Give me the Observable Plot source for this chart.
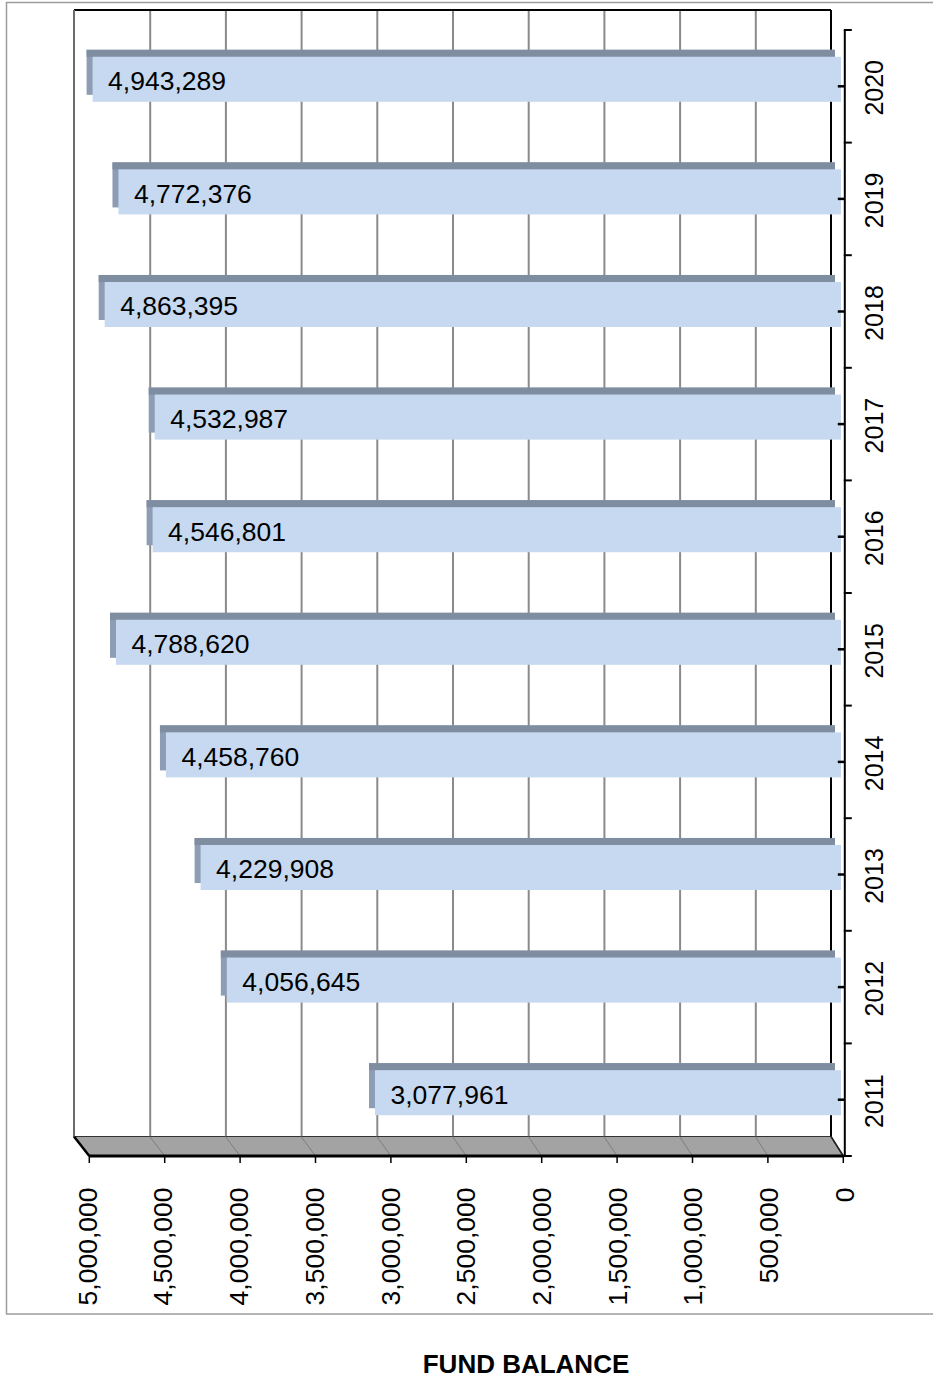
<!DOCTYPE html>
<html>
<head>
<meta charset="utf-8">
<script src="https://cdn.jsdelivr.net/npm/d3@7"></script>
<script src="https://cdn.jsdelivr.net/npm/@observablehq/plot@0.6"></script>
<style>
  html, body { margin: 0; padding: 0; background: #fff; }
  body { font-family: "Liberation Sans", Arial, sans-serif; width: 933px; height: 1379px; }
  #chart svg { display: block; }
  #title { width: 933px; height: 49px; box-sizing: border-box; padding-top: 23px; padding-left: 119px; text-align: center; font-weight: bold; font-size: 26px; line-height: 22px; white-space: nowrap; color: #000; }
</style>
</head>
<body>
<div id="chart"></div>
<div id="title"></div>
<script>
// ---- data ----
const years = ["2020", "2019", "2018", "2017", "2016", "2015", "2014", "2013", "2012", "2011"];
const balances = [4943289, 4772376, 4863395, 4532987, 4546801, 4788620, 4458760, 4229908, 4056645, 3077961];
const xTicks = [0, 500000, 1000000, 1500000, 2000000, 2500000, 3000000, 3500000, 4000000, 4500000, 5000000];
const titleText = "FUND BALANCE";

const data = years.map((year, i) => ({year, value: balances[i]}));
const fmt = d3.format(",");
const XMAX = 5000000;

// 3D projection offsets (pixels) between back wall and front edge
const DEPTH_X0 = 12.3, DEPTH_XK = 3, DEPTH_Y = 19.5;

function frontOf(x) { return v => x(v) + DEPTH_X0 + DEPTH_XK * v / XMAX; }

function line(g, x1, y1, x2, y2, stroke, w) {
  g.append("line").attr("x1", x1).attr("y1", y1).attr("x2", x2).attr("y2", y2)
    .attr("stroke", stroke).attr("stroke-width", w);
}

// back wall, floor, chart border
function backDecor(index, scales, values, dims) {
  const x = scales.x;
  const {width, height, marginTop, marginBottom} = dims;
  const yFront = height - marginBottom;
  const yBack = yFront - DEPTH_Y;
  const yTop = marginTop - DEPTH_Y - 0.5;
  const front = frontOf(x);
  const g = d3.create("svg:g");
  // outer chart border
  g.append("rect").attr("x", 6.5).attr("y", 2.5).attr("width", width).attr("height", yFront + 158 - 2.5)
    .attr("fill", "none").attr("stroke", "#9d9d9d").attr("stroke-width", 1.5);
  // floor
  const pts = [[x(XMAX), yBack], [x(0), yBack], [front(0), yFront], [front(XMAX), yFront]];
  g.append("path").attr("d", "M" + pts.join("L") + "Z").attr("fill", "#a3a3a3")
    .attr("stroke", "#333").attr("stroke-width", 1.2);
  for (const v of xTicks) {
    if (v > 0 && v < XMAX) line(g, x(v), yBack, front(v), yFront, "#7d7d7d", 1);
  }
  line(g, x(XMAX), yBack, front(XMAX), yFront, "#000", 2.5);
  line(g, x(0), yBack, front(0), yFront, "#222", 1.5);
  line(g, front(XMAX), yFront, front(0), yFront, "#000", 3);
  // back wall edges
  line(g, x(XMAX), yTop, x(0), yTop, "#000", 2);
  line(g, x(XMAX), yTop, x(XMAX), yBack, "#6a6a6a", 2);
  line(g, x(0), yTop, x(0), yBack, "#000", 2);
  return g.node();
}

// category axis and x tick marks (front)
function frontDecor(index, scales, values, dims) {
  const x = scales.x;
  const {height, marginTop, marginBottom} = dims;
  const yFront = height - marginBottom;
  const front = frontOf(x);
  const g = d3.create("svg:g");
  const xa = front(0) + 1.5;
  line(g, xa, marginTop, xa, yFront + 1, "#000", 2);
  const n = years.length;
  const step = (yFront - marginTop) / n;
  for (let i = 0; i <= n; ++i) line(g, xa - 1, marginTop + i * step, xa + 7, marginTop + i * step, "#000", 2);
  for (let i = 0; i < n; ++i) line(g, xa - 7, marginTop + (i + 0.5) * step, xa, marginTop + (i + 0.5) * step, "#000", 2.5);
  for (const v of xTicks) line(g, front(v), yFront, front(v), yFront + 7, "#000", 1.5);
  return g.node();
}

const chart = Plot.plot({
  width: 933,
  height: 1330,
  marginLeft: 74,
  marginRight: 102,
  marginTop: 30,
  marginBottom: 174,
  style: {fontFamily: "'Liberation Sans', Arial, sans-serif", background: "#fff", overflow: "visible"},
  x: {domain: [0, XMAX], reverse: true, axis: null},
  y: {type: "band", domain: years, paddingInner: 0.6, paddingOuter: 0.3, round: false, axis: null},
  marks: [
    Plot.ruleX(xTicks.filter(v => v > 0 && v < XMAX), {x: d => d, dy: -DEPTH_Y, stroke: "#8a8a8a", strokeWidth: 2}),
    backDecor,
    // bar depth (side + top)
    Plot.barX(data, {x: "value", y: "year", fill: "#8d9db4", dx: 4, dy: -14}),
    Plot.barX(data, {x: "value", y: "year", fill: "#7f8da1", dx: 4, dy: -14, insetBottom: 38}),
    // bar face
    Plot.barX(data, {x: "value", y: "year", fill: "#c6d9f0", dx: 10, dy: -7}),
    Plot.text(data, {x: "value", y: "year", text: d => fmt(d.value), textAnchor: "start", dx: 25, dy: -5, fontSize: 26.5, fill: "#000"}),
    frontDecor,
    // category labels
    Plot.text(years, {y: d => d, text: d => d, frameAnchor: "right", textAnchor: "middle", lineAnchor: "middle", rotate: -90, dx: 43, dy: 1, fontSize: 25, fill: "#000"}),
    // value axis tick labels
    Plot.text(xTicks, {x: d => d, text: d => fmt(d), frameAnchor: "bottom", rotate: -90, textAnchor: "end", lineAnchor: "middle", dx: 13.8, dy: 31, fontSize: 26.5, fill: "#000"})
  ]
});
document.getElementById("chart").append(chart);
document.getElementById("title").textContent = titleText;
</script>
</body>
</html>
